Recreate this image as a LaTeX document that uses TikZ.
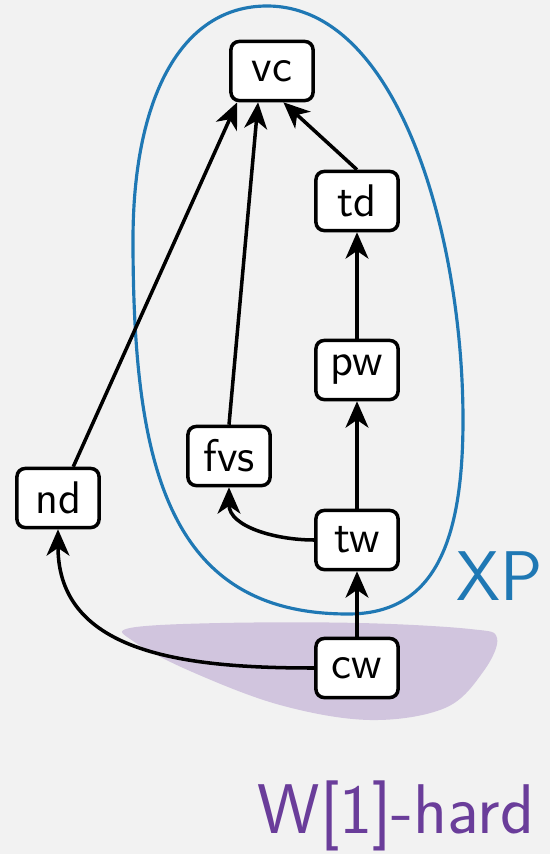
\documentclass[tikz,border=0pt]{standalone}
\usepackage{fontspec}
\usetikzlibrary{arrows.meta}
\definecolor{bggray}{HTML}{F2F2F2}
\definecolor{xpblue}{HTML}{1F78B4}
\definecolor{wpurple}{HTML}{6A3D9A}
\definecolor{wfill}{HTML}{D1C5DE}
\tikzset{
  param/.style={draw=black,fill=white,line width=1pt,rounded corners=2.3pt,
    minimum width=0.82cm,minimum height=0.59cm,inner sep=0pt,
    font=\sffamily\fontsize{13}{15}\selectfont},
  dep/.style={line width=1pt,-{Stealth[length=7.5pt,width=6.5pt,inset=2.2pt]}},
  classlabel/.style={anchor=base,font=\sffamily\fontsize{20}{24}\selectfont}
}
\begin{document}
\begin{tikzpicture}[x=0.01cm,y=0.01cm]
  \fill[bggray] (0,0) rectangle (550,-854);
  \useasboundingbox (0,0) rectangle (550,-854);

  % W[1]-hard region
  \fill[wfill] plot[smooth cycle,tension=0.6] coordinates {
    (130,-628) (220,-623) (360,-623) (470,-629) (497,-638) (483,-672)
    (445,-708) (370,-720) (280,-705) (190,-671) (133,-641)};
  % XP region
  \draw[xpblue,line width=0.9pt] (267,-6)
    .. controls (400,-6) and (463,-240) .. (463,-420)
    .. controls (463,-550) and (430,-614) .. (348,-614)
    .. controls (170,-614) and (133,-470) .. (133,-240)
    .. controls (133,-100) and (180,-6) .. cycle;

  \node[param] (vc) at (272,-71) {vc};
  \node[param] (td) at (357,-201) {td};
  \node[param] (pw) at (357,-370) {pw};
  \node[param] (fvs) at (229,-456) {fvs};
  \node[param] (nd) at (58,-498) {nd};
  \node[param] (tw) at (357,-540) {tw};
  \node[param] (cw) at (357,-668) {cw};

  \draw[dep] (nd.64) -- (vc.222);
  \draw[dep] (fvs.north) -- (vc.246);
  \draw[dep] (td.north) -- (vc.290);
  \draw[dep] (pw) -- (td);
  \draw[dep] (tw) -- (pw);
  \draw[dep] (tw.west) to[out=180,in=-90] (fvs.south);
  \draw[dep] (cw) -- (tw);
  \draw[dep] (cw.west) to[out=180,in=-90,looseness=1.1] (nd.south);

  \node[xpblue,classlabel] (xp) at (500,-600) {XP};
  \node[wpurple,classlabel] (w1) at (396,-833) {W[1]-hard};
\end{tikzpicture}
\end{document}
